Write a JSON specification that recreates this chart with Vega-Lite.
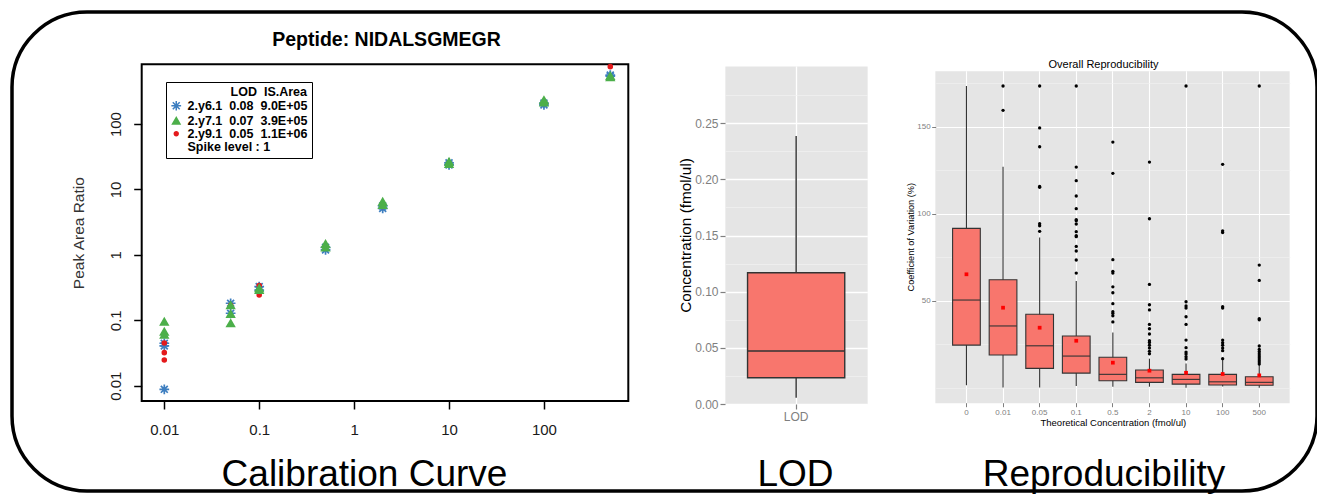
{
  "$schema": "https://vega.github.io/schema/vega-lite/v6.json",
  "width": 1305,
  "height": 479,
  "autosize": {"type": "none"},
  "padding": {"left": 12, "top": 12, "right": 0, "bottom": 3},
  "background": "white",
  "config": {
    "view": {"stroke": "black", "strokeWidth": 3.5, "cornerRadius": 75, "fill": "white"},
    "font": "Liberation Sans",
    "axis": {"zindex": 0, "labelFont": "Liberation Sans", "titleFont": "Liberation Sans", "titleFontWeight": "normal", "labelOverlap": false, "labelFlush": false, "domain": false}
  },
  "datasets": {
    "calib": [
      {"conc": 0.01, "ratio": 0.0445, "transition": "2.y6.1"},
      {"conc": 0.01, "ratio": 0.0405, "transition": "2.y6.1"},
      {"conc": 0.01, "ratio": 0.0088, "transition": "2.y6.1"},
      {"conc": 0.05, "ratio": 0.182, "transition": "2.y6.1"},
      {"conc": 0.05, "ratio": 0.128, "transition": "2.y6.1"},
      {"conc": 0.1, "ratio": 0.327, "transition": "2.y6.1"},
      {"conc": 0.1, "ratio": 0.29, "transition": "2.y6.1"},
      {"conc": 0.5, "ratio": 1.19, "transition": "2.y6.1"},
      {"conc": 0.5, "ratio": 1.3, "transition": "2.y6.1"},
      {"conc": 2, "ratio": 5.15, "transition": "2.y6.1"},
      {"conc": 2, "ratio": 5.6, "transition": "2.y6.1"},
      {"conc": 10, "ratio": 23.7, "transition": "2.y6.1"},
      {"conc": 10, "ratio": 25.5, "transition": "2.y6.1"},
      {"conc": 100, "ratio": 196, "transition": "2.y6.1"},
      {"conc": 100, "ratio": 210, "transition": "2.y6.1"},
      {"conc": 500, "ratio": 562, "transition": "2.y6.1"},
      {"conc": 500, "ratio": 540, "transition": "2.y6.1"},
      {"conc": 0.01, "ratio": 0.032, "transition": "2.y9.1"},
      {"conc": 0.01, "ratio": 0.0247, "transition": "2.y9.1"},
      {"conc": 0.01, "ratio": 0.045, "transition": "2.y9.1"},
      {"conc": 0.05, "ratio": 0.17, "transition": "2.y9.1"},
      {"conc": 0.1, "ratio": 0.34, "transition": "2.y9.1"},
      {"conc": 0.1, "ratio": 0.244, "transition": "2.y9.1"},
      {"conc": 0.5, "ratio": 1.35, "transition": "2.y9.1"},
      {"conc": 2, "ratio": 5.5, "transition": "2.y9.1"},
      {"conc": 10, "ratio": 25, "transition": "2.y9.1"},
      {"conc": 100, "ratio": 210, "transition": "2.y9.1"},
      {"conc": 500, "ratio": 755, "transition": "2.y9.1"},
      {"conc": 0.01, "ratio": 0.095, "transition": "2.y7.1"},
      {"conc": 0.01, "ratio": 0.067, "transition": "2.y7.1"},
      {"conc": 0.01, "ratio": 0.06, "transition": "2.y7.1"},
      {"conc": 0.05, "ratio": 0.17, "transition": "2.y7.1"},
      {"conc": 0.05, "ratio": 0.125, "transition": "2.y7.1"},
      {"conc": 0.05, "ratio": 0.09, "transition": "2.y7.1"},
      {"conc": 0.1, "ratio": 0.29, "transition": "2.y7.1"},
      {"conc": 0.1, "ratio": 0.31, "transition": "2.y7.1"},
      {"conc": 0.5, "ratio": 1.47, "transition": "2.y7.1"},
      {"conc": 0.5, "ratio": 1.3, "transition": "2.y7.1"},
      {"conc": 2, "ratio": 6.5, "transition": "2.y7.1"},
      {"conc": 2, "ratio": 5.8, "transition": "2.y7.1"},
      {"conc": 10, "ratio": 26.6, "transition": "2.y7.1"},
      {"conc": 10, "ratio": 24.5, "transition": "2.y7.1"},
      {"conc": 100, "ratio": 233, "transition": "2.y7.1"},
      {"conc": 100, "ratio": 215, "transition": "2.y7.1"},
      {"conc": 500, "ratio": 519, "transition": "2.y7.1"},
      {"conc": 500, "ratio": 545, "transition": "2.y7.1"}
    ],
    "lod": [
      {"cat": "LOD", "lo": 0.0056, "q1": 0.0234, "med": 0.0472, "q3": 0.1169, "hi": 0.2386}
    ],
    "repro": [
      {"conc": "0", "lo": 1.5, "q1": 24.5, "med": 50.4, "q3": 91.6, "hi": 173.4, "mean": 65.2},
      {"conc": "0.01", "lo": 0.2, "q1": 18.8, "med": 35.5, "q3": 62.1, "hi": 127, "mean": 46},
      {"conc": "0.05", "lo": 0.2, "q1": 11.1, "med": 24.1, "q3": 42.2, "hi": 86.4, "mean": 34.5},
      {"conc": "0.1", "lo": 1.0, "q1": 8.4, "med": 18.2, "q3": 29.7, "hi": 61.3, "mean": 27.0},
      {"conc": "0.5", "lo": 0.6, "q1": 4.0, "med": 7.7, "q3": 17.5, "hi": 31.7, "mean": 14.4},
      {"conc": "2", "lo": 0.6, "q1": 3.1, "med": 5.7, "q3": 10.2, "hi": 16.7, "mean": 9.8},
      {"conc": "10", "lo": 0.0, "q1": 2.1, "med": 4.8, "q3": 7.7, "hi": 14.0, "mean": 8.6},
      {"conc": "100", "lo": 0.7, "q1": 1.6, "med": 3.4, "q3": 7.7, "hi": 15.9, "mean": 7.9},
      {"conc": "500", "lo": 0.0, "q1": 1.4, "med": 3.1, "q3": 6.3, "hi": 13.0, "mean": 7.1}
    ],
    "repro_out": [
      {"conc": "0.01", "cv": 173.4}, {"conc": "0.01", "cv": 159.4},
      {"conc": "0.05", "cv": 173.4}, {"conc": "0.05", "cv": 149.3}, {"conc": "0.05", "cv": 138.5}, {"conc": "0.05", "cv": 115.7}, {"conc": "0.05", "cv": 115.2}, {"conc": "0.05", "cv": 94.3}, {"conc": "0.05", "cv": 93.1}, {"conc": "0.05", "cv": 89.9},
      {"conc": "0.1", "cv": 173.4}, {"conc": "0.1", "cv": 126.8}, {"conc": "0.1", "cv": 119}, {"conc": "0.1", "cv": 110.2}, {"conc": "0.1", "cv": 102.9}, {"conc": "0.1", "cv": 96.6}, {"conc": "0.1", "cv": 96}, {"conc": "0.1", "cv": 94.1}, {"conc": "0.1", "cv": 89.7}, {"conc": "0.1", "cv": 87.4}, {"conc": "0.1", "cv": 86.8}, {"conc": "0.1", "cv": 81.2}, {"conc": "0.1", "cv": 78.6}, {"conc": "0.1", "cv": 73.4}, {"conc": "0.1", "cv": 65.9},
      {"conc": "0.5", "cv": 141.2}, {"conc": "0.5", "cv": 123.2}, {"conc": "0.5", "cv": 73.6}, {"conc": "0.5", "cv": 66.9}, {"conc": "0.5", "cv": 65.9}, {"conc": "0.5", "cv": 58}, {"conc": "0.5", "cv": 54.6}, {"conc": "0.5", "cv": 48.3}, {"conc": "0.5", "cv": 43.7}, {"conc": "0.5", "cv": 42.7}, {"conc": "0.5", "cv": 41.3}, {"conc": "0.5", "cv": 37.8},
      {"conc": "2", "cv": 129.7}, {"conc": "2", "cv": 97.1}, {"conc": "2", "cv": 59.4}, {"conc": "2", "cv": 47.7}, {"conc": "2", "cv": 44.7}, {"conc": "2", "cv": 36.4}, {"conc": "2", "cv": 33.9}, {"conc": "2", "cv": 30.9}, {"conc": "2", "cv": 27}, {"conc": "2", "cv": 26}, {"conc": "2", "cv": 24.4}, {"conc": "2", "cv": 22.8}, {"conc": "2", "cv": 20.9}, {"conc": "2", "cv": 19.5},
      {"conc": "10", "cv": 173.4}, {"conc": "10", "cv": 49.4}, {"conc": "10", "cv": 47}, {"conc": "10", "cv": 45.8}, {"conc": "10", "cv": 40.8}, {"conc": "10", "cv": 36.4}, {"conc": "10", "cv": 27.4}, {"conc": "10", "cv": 23}, {"conc": "10", "cv": 20.5}, {"conc": "10", "cv": 19.4}, {"conc": "10", "cv": 17.8}, {"conc": "10", "cv": 16.5},
      {"conc": "100", "cv": 128.4}, {"conc": "100", "cv": 90.2}, {"conc": "100", "cv": 89.2}, {"conc": "100", "cv": 46.6}, {"conc": "100", "cv": 45.8}, {"conc": "100", "cv": 27.4}, {"conc": "100", "cv": 25.9}, {"conc": "100", "cv": 24.4}, {"conc": "100", "cv": 22.8}, {"conc": "100", "cv": 21.3}, {"conc": "100", "cv": 16.7},
      {"conc": "500", "cv": 173.4}, {"conc": "500", "cv": 70.5}, {"conc": "500", "cv": 61.7}, {"conc": "500", "cv": 39.7}, {"conc": "500", "cv": 39}, {"conc": "500", "cv": 24}, {"conc": "500", "cv": 22}, {"conc": "500", "cv": 20.7}, {"conc": "500", "cv": 19.4}, {"conc": "500", "cv": 18.2}, {"conc": "500", "cv": 17.1}, {"conc": "500", "cv": 15.9}, {"conc": "500", "cv": 14.8}, {"conc": "500", "cv": 13.6}
    ]
  },
  "resolve": {"scale": {"x": "independent", "y": "independent"}, "axis": {"x": "independent", "y": "independent"}},
  "layer": [
    {
      "resolve": {"axis": {"x": "independent", "y": "independent"}},
      "layer": [
        {
          "data": {"values": [{}]},
          "mark": {"type": "rect", "fill": "transparent", "stroke": "black", "strokeWidth": 2},
          "encoding": {
            "x": {"datum": 0.00578, "type": "quantitative",
              "scale": {"type": "log", "domain": [0.00578, 774], "range": [129.7, 616.3], "nice": false, "zero": false},
              "axis": {"orient": "bottom", "offset": -90, "values": [0.01, 0.1, 1, 10, 100], "format": "~g", "grid": false, "domain": false, "ticks": true, "tickColor": "black", "tickSize": 8, "tickWidth": 1.5, "labelColor": "#1a1a1a", "labelFontSize": 15, "labelPadding": 13, "labelAngle": 0, "title": "Calibration Curve", "titleFontSize": 37, "titleColor": "black", "titleX": 352, "titleY": 84, "titleBaseline": "alphabetic", "titleAlign": "center"}},
            "x2": {"datum": 774},
            "y": {"datum": 0.00583, "type": "quantitative",
              "scale": {"type": "log", "domain": [0.00583, 820], "range": [389, 52.3], "nice": false, "zero": false},
              "axis": {"orient": "left", "offset": -129.7, "values": [0.01, 0.1, 1, 10, 100], "format": "~g", "grid": false, "domain": false, "ticks": true, "tickColor": "black", "tickSize": 8, "tickWidth": 1.5, "labelAngle": 270, "labelAlign": "center", "labelBaseline": "bottom", "labelFontSize": 15, "labelPadding": 10, "labelColor": "#1a1a1a", "title": "Peak Area Ratio", "titleFontSize": 15.5, "titleColor": "#333333", "titlePadding": 22}},
            "y2": {"datum": 820}
          }
        },
        {
          "data": {"name": "calib"},
          "mark": {"type": "point", "filled": true, "strokeWidth": 1.7, "opacity": 1},
          "encoding": {
            "x": {"field": "conc", "type": "quantitative",
              "scale": {"type": "log", "domain": [0.00578, 774], "range": [129.7, 616.3], "nice": false, "zero": false},
              "axis": {"orient": "top", "offset": 0, "labels": false, "ticks": false, "domain": false, "grid": false, "title": "Peptide: NIDALSGMEGR", "titleFontSize": 19.5, "titleFontWeight": "bold", "titleColor": "black", "titleX": 374, "titleY": 33, "titleBaseline": "alphabetic", "titleAlign": "center"}},
            "y": {"field": "ratio", "type": "quantitative",
              "scale": {"type": "log", "domain": [0.00583, 820], "range": [389, 52.3], "nice": false, "zero": false},
              "axis": null},
            "color": {"field": "transition", "type": "nominal",
              "scale": {"domain": ["2.y6.1", "2.y7.1", "2.y9.1", "Spike level : 1"], "range": ["#3D7EC0", "#4CAF4A", "#E41A1C", "rgba(0,0,0,0)"]},
              "legend": {"orient": "none", "legendX": 154, "legendY": 70, "title": "LOD\u00a0 IS.Area", "titleAnchor": "end", "titleFontSize": 12.5, "titleFontWeight": "bold", "titleColor": "black", "titlePadding": 1, "labelFontSize": 12.5, "labelFontWeight": "bold", "labelColor": "black", "labelOffset": 5, "rowPadding": 0, "strokeColor": "black", "padding": 4, "fillColor": "white", "labelLimit": 200,
                "labelExpr": "datum.label == '2.y6.1' ? '2.y6.1\u00a0 0.08\u00a0 9.0E+05' : datum.label == '2.y7.1' ? '2.y7.1\u00a0 0.07\u00a0 3.9E+05' : datum.label == '2.y9.1' ? '2.y9.1\u00a0 0.05\u00a0 1.1E+06' : datum.label"}},
            "stroke": {"field": "transition", "type": "nominal",
              "scale": {"domain": ["2.y6.1", "2.y7.1", "2.y9.1", "Spike level : 1"], "range": ["#3D7EC0", "#4CAF4A", "#E41A1C", "rgba(0,0,0,0)"]},
              "legend": {"orient": "none", "legendX": 154, "legendY": 70, "title": "LOD\u00a0 IS.Area", "titleAnchor": "end", "titleFontSize": 12.5, "titleFontWeight": "bold", "titleColor": "black", "titlePadding": 1, "labelFontSize": 12.5, "labelFontWeight": "bold", "labelColor": "black", "labelOffset": 5, "rowPadding": 0, "strokeColor": "black", "padding": 4, "fillColor": "white", "labelLimit": 200,
                "labelExpr": "datum.label == '2.y6.1' ? '2.y6.1\u00a0 0.08\u00a0 9.0E+05' : datum.label == '2.y7.1' ? '2.y7.1\u00a0 0.07\u00a0 3.9E+05' : datum.label == '2.y9.1' ? '2.y9.1\u00a0 0.05\u00a0 1.1E+06' : datum.label"}},
            "shape": {"field": "transition", "type": "nominal",
              "scale": {"domain": ["2.y6.1", "2.y7.1", "2.y9.1", "Spike level : 1"], "range": ["M-1,0L1,0M0,-1L0,1M-0.71,-0.71L0.71,0.71M-0.71,0.71L0.71,-0.71", "triangle-up", "circle", "circle"]},
              "legend": {"orient": "none", "legendX": 154, "legendY": 70, "title": "LOD\u00a0 IS.Area", "titleAnchor": "end", "titleFontSize": 12.5, "titleFontWeight": "bold", "titleColor": "black", "titlePadding": 1, "labelFontSize": 12.5, "labelFontWeight": "bold", "labelColor": "black", "labelOffset": 5, "rowPadding": 0, "strokeColor": "black", "padding": 4, "fillColor": "white", "labelLimit": 200,
                "labelExpr": "datum.label == '2.y6.1' ? '2.y6.1\u00a0 0.08\u00a0 9.0E+05' : datum.label == '2.y7.1' ? '2.y7.1\u00a0 0.07\u00a0 3.9E+05' : datum.label == '2.y9.1' ? '2.y9.1\u00a0 0.05\u00a0 1.1E+06' : datum.label"}},
            "size": {"field": "transition", "type": "ordinal",
              "scale": {"type": "ordinal", "domain": ["2.y6.1", "2.y7.1", "2.y9.1", "Spike level : 1"], "range": [95, 55, 15, 0]},
              "legend": {"orient": "none", "legendX": 154, "legendY": 70, "title": "LOD\u00a0 IS.Area", "titleAnchor": "end", "titleFontSize": 12.5, "titleFontWeight": "bold", "titleColor": "black", "titlePadding": 1, "labelFontSize": 12.5, "labelFontWeight": "bold", "labelColor": "black", "labelOffset": 5, "rowPadding": 0, "strokeColor": "black", "padding": 4, "fillColor": "white", "labelLimit": 200,
                "labelExpr": "datum.label == '2.y6.1' ? '2.y6.1\u00a0 0.08\u00a0 9.0E+05' : datum.label == '2.y7.1' ? '2.y7.1\u00a0 0.07\u00a0 3.9E+05' : datum.label == '2.y9.1' ? '2.y9.1\u00a0 0.05\u00a0 1.1E+06' : datum.label"}}
          }
        }
      ]
    },
    {
      "data": {"name": "lod"},
      "resolve": {"axis": {"x": "independent", "y": "independent"}},
      "layer": [
        {
          "mark": {"type": "rule", "color": "#333333", "strokeWidth": 1.4},
          "encoding": {
            "x": {"field": "cat", "type": "nominal",
              "scale": {"type": "band", "domain": ["LOD"], "range": [713, 855.3], "paddingInner": 0, "paddingOuter": 0},
              "axis": {"orient": "top", "offset": 0, "values": ["LOD"], "grid": true, "gridColor": "#E5E5E5", "gridWidth": 142.3, "gridOpacity": 1, "gridCap": "butt", "ticks": false, "labels": false, "domain": false, "title": null}},
            "y": {"field": "lo", "type": "quantitative",
              "scale": {"domain": [0, 0.301], "range": [392, 54], "zero": false, "nice": false},
              "axis": {"orient": "left", "offset": -713, "values": [0.025, 0.075, 0.125, 0.175, 0.225, 0.275], "grid": true, "gridColor": "#F2F2F2", "gridWidth": 0.7, "gridOpacity": 1, "ticks": false, "labels": false, "domain": false, "title": null}},
            "y2": {"field": "hi"}
          }
        },
        {
          "mark": {"type": "bar", "width": {"band": 0.683}, "fill": "#F8766D", "stroke": "#333333", "strokeWidth": 1.4, "opacity": 1},
          "encoding": {
            "x": {"field": "cat", "type": "nominal",
              "scale": {"type": "band", "domain": ["LOD"], "range": [713, 855.3], "paddingInner": 0, "paddingOuter": 0},
              "axis": {"orient": "bottom", "offset": -87, "grid": false, "ticks": true, "tickColor": "#7F7F7F", "tickSize": 5, "tickWidth": 1.2, "labels": true, "labelColor": "#7F7F7F", "labelFontSize": 12, "labelAngle": 0, "labelPadding": 2, "domain": false, "title": "LOD", "titleFontSize": 37, "titleColor": "black", "titleX": 783, "titleY": 81, "titleBaseline": "alphabetic", "titleAlign": "center"}},
            "y": {"field": "q1", "type": "quantitative",
              "scale": {"domain": [0, 0.301], "range": [392, 54], "zero": false, "nice": false},
              "axis": {"orient": "left", "offset": -713, "values": [0, 0.05, 0.1, 0.15, 0.2, 0.25], "format": ".2f", "grid": true, "gridColor": "white", "gridWidth": 1.3, "gridOpacity": 1, "tickColor": "#7F7F7F", "tickSize": 5, "tickWidth": 1.2, "labelColor": "#7F7F7F", "labelFontSize": 12, "labelPadding": 2, "domain": false, "title": "Concentration (fmol/ul)", "titleFontSize": 15.3, "titleColor": "black", "titlePadding": 1}},
            "y2": {"field": "q3"}
          }
        },
        {
          "mark": {"type": "tick", "color": "#333333", "thickness": 1.4, "size": 97, "opacity": 1},
          "encoding": {
            "x": {"field": "cat", "type": "nominal",
              "scale": {"type": "band", "domain": ["LOD"], "range": [713, 855.3], "paddingInner": 0, "paddingOuter": 0},
              "axis": {"orient": "top", "offset": 0, "values": ["LOD"], "grid": true, "gridColor": "white", "gridWidth": 1.3, "gridOpacity": 1, "ticks": false, "labels": false, "domain": false, "title": null}},
            "y": {"field": "med", "type": "quantitative",
              "scale": {"domain": [0, 0.301], "range": [392, 54], "zero": false, "nice": false},
              "axis": null}
          }
        }
      ]
    },
    {
      "resolve": {"axis": {"x": "independent", "y": "independent"}},
      "layer": [
        {
          "data": {"name": "repro"},
          "mark": {"type": "rule", "color": "#333333", "strokeWidth": 1.1},
          "encoding": {
            "x": {"field": "conc", "type": "nominal", "sort": null,
              "scale": {"type": "band", "domain": ["0", "0.01", "0.05", "0.1", "0.5", "2", "10", "100", "500"], "range": [923.7, 1278], "paddingInner": 0, "paddingOuter": 0.34},
              "axis": {"orient": "top", "offset": 0, "values": ["0.5"], "grid": true, "gridColor": "#E5E5E5", "gridWidth": 354.3, "gridOpacity": 1, "gridCap": "butt", "ticks": false, "labels": false, "domain": false, "title": null}},
            "y": {"field": "lo", "type": "quantitative",
              "scale": {"domain": [-8.6, 182.2], "range": [390.7, 58.7], "zero": false, "nice": false},
              "axis": {"orient": "left", "offset": -923.7, "values": [0, 25, 75, 125, 175], "grid": true, "gridColor": "#F2F2F2", "gridWidth": 0.6, "gridOpacity": 1, "ticks": false, "labels": false, "domain": false, "title": null}},
            "y2": {"field": "hi"}
          }
        },
        {
          "data": {"name": "repro"},
          "mark": {"type": "bar", "width": {"band": 0.757}, "fill": "#F8766D", "stroke": "#333333", "strokeWidth": 1.1, "opacity": 1},
          "encoding": {
            "x": {"field": "conc", "type": "nominal", "sort": null,
              "scale": {"type": "band", "domain": ["0", "0.01", "0.05", "0.1", "0.5", "2", "10", "100", "500"], "range": [923.7, 1278], "paddingInner": 0, "paddingOuter": 0.34},
              "axis": {"orient": "bottom", "offset": -88.3, "grid": false, "tickColor": "#7F7F7F", "tickSize": 4, "tickWidth": 1, "labelColor": "#7F7F7F", "labelFontSize": 8, "labelAngle": 0, "labelPadding": 2, "domain": false, "title": "Theoretical Concentration (fmol/ul)", "titleFontSize": 9.5, "titleColor": "black", "titlePadding": 1}},
            "y": {"field": "q1", "type": "quantitative",
              "scale": {"domain": [-8.6, 182.2], "range": [390.7, 58.7], "zero": false, "nice": false},
              "axis": {"orient": "left", "offset": -923.7, "values": [50, 100, 150], "grid": true, "gridColor": "white", "gridWidth": 1.1, "gridOpacity": 1, "tickColor": "#7F7F7F", "tickSize": 4, "tickWidth": 1, "labelColor": "#7F7F7F", "labelFontSize": 8, "labelPadding": 1.5, "domain": false, "title": "Coefficient of Variation (%)", "titleFontSize": 9.2, "titleColor": "black", "titlePadding": 1}},
            "y2": {"field": "q3"}
          }
        },
        {
          "data": {"name": "repro"},
          "mark": {"type": "tick", "color": "#333333", "thickness": 1.1, "size": 27.7, "opacity": 1},
          "encoding": {
            "x": {"field": "conc", "type": "nominal", "sort": null,
              "scale": {"type": "band", "domain": ["0", "0.01", "0.05", "0.1", "0.5", "2", "10", "100", "500"], "range": [923.7, 1278], "paddingInner": 0, "paddingOuter": 0.34},
              "axis": {"orient": "top", "offset": 0, "labels": false, "ticks": false, "domain": false, "grid": true, "gridColor": "white", "gridWidth": 1.1, "gridOpacity": 1, "title": "Overall Reproducibility", "titleFontSize": 11, "titleColor": "black", "titleX": 1091, "titleY": 55.6, "titleBaseline": "alphabetic", "titleAlign": "center"}},
            "y": {"field": "med", "type": "quantitative",
              "scale": {"domain": [-8.6, 182.2], "range": [390.7, 58.7], "zero": false, "nice": false},
              "axis": null}
          }
        },
        {
          "data": {"name": "repro_out"},
          "mark": {"type": "circle", "color": "black", "size": 11, "opacity": 1},
          "encoding": {
            "x": {"field": "conc", "type": "nominal", "sort": null,
              "scale": {"type": "band", "domain": ["0", "0.01", "0.05", "0.1", "0.5", "2", "10", "100", "500"], "range": [923.7, 1278], "paddingInner": 0, "paddingOuter": 0.34},
              "axis": {"orient": "bottom", "offset": -88.3, "labels": false, "ticks": false, "domain": false, "grid": false, "title": "Reproducibility", "titleFontSize": 37, "titleColor": "black", "titleX": 1091.5, "titleY": 82.3, "titleBaseline": "alphabetic", "titleAlign": "center"}},
            "y": {"field": "cv", "type": "quantitative",
              "scale": {"domain": [-8.6, 182.2], "range": [390.7, 58.7], "zero": false, "nice": false},
              "axis": null}
          }
        },
        {
          "data": {"name": "repro"},
          "mark": {"type": "square", "color": "#FF0000", "size": 14, "opacity": 1},
          "encoding": {
            "x": {"field": "conc", "type": "nominal", "sort": null,
              "scale": {"type": "band", "domain": ["0", "0.01", "0.05", "0.1", "0.5", "2", "10", "100", "500"], "range": [923.7, 1278], "paddingInner": 0, "paddingOuter": 0.34},
              "axis": null},
            "y": {"field": "mean", "type": "quantitative",
              "scale": {"domain": [-8.6, 182.2], "range": [390.7, 58.7], "zero": false, "nice": false},
              "axis": null}
          }
        }
      ]
    }
  ]
}
